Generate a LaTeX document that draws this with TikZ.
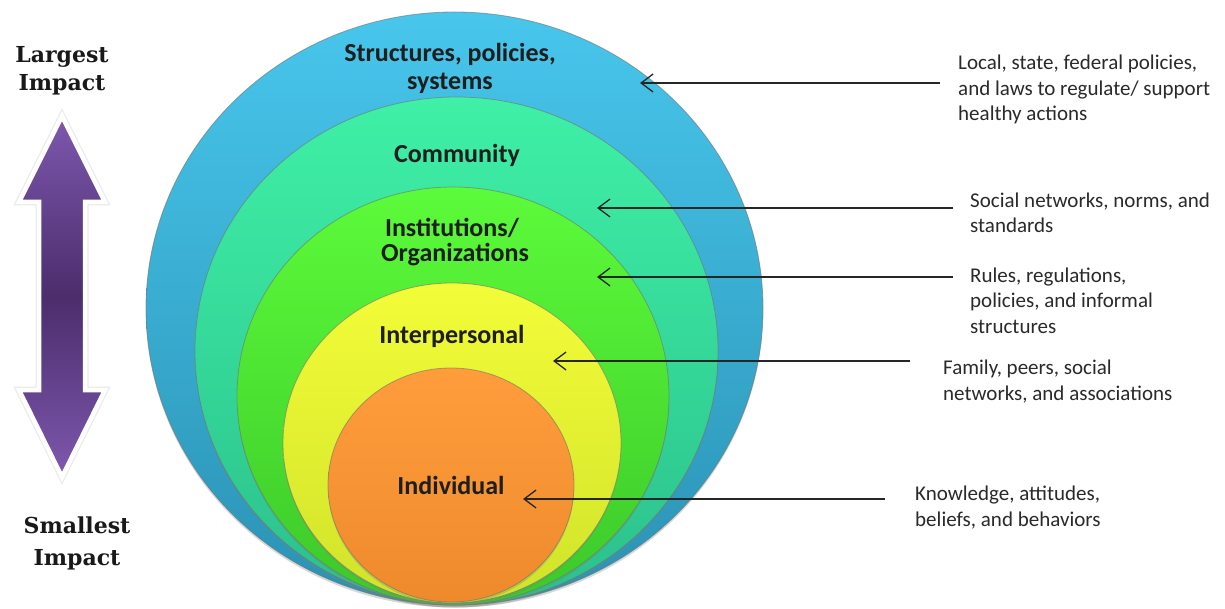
\documentclass[tikz,border=0pt]{standalone}
\usepackage{fontspec}
\setmainfont{Carlito}
\newfontfamily\sidefont{DejaVu Serif}
\usetikzlibrary{arrows.meta,shadows}
\definecolor{blueT}{HTML}{48C6EC}
\definecolor{blueB}{HTML}{2A92B4}
\definecolor{commT}{HTML}{3FF0A6}
\definecolor{commB}{HTML}{2BC08C}
\definecolor{instT}{HTML}{5CFB3A}
\definecolor{instB}{HTML}{3CC82A}
\definecolor{yelT}{HTML}{F3FC38}
\definecolor{yelB}{HTML}{D0E32A}
\definecolor{orT}{HTML}{FF9D3C}
\definecolor{orB}{HTML}{EE8A2C}
\definecolor{purEnd}{HTML}{7E58AE}
\definecolor{purMid}{HTML}{4C2D6C}
\definecolor{txt}{HTML}{1E1E1E}
\definecolor{sidetxt}{HTML}{2A2A2A}
\begin{document}
\begin{tikzpicture}[x=1pt,y=-1pt,
  ring/.style={draw=black!55, draw opacity=0.6, line width=0.8pt,
    drop shadow={opacity=0.3, shadow xshift=0pt, shadow yshift=-2.5pt}},
  lab/.style={anchor=base, inner sep=0pt, text=txt,
    font=\fontsize{26}{28}\selectfont\bfseries},
  side/.style={anchor=base west, inner sep=0pt, align=left, text=sidetxt,
    font=\fontsize{21}{25.5}\selectfont},
  impact/.style={anchor=base, inner sep=0pt, text=black!90,
    font=\sidefont\bfseries\fontsize{22}{24}\selectfont},
  conn/.style={draw=black!85, line width=1.3pt,
    -{Straight Barb[length=12pt,width=18pt,line width=1.3pt]}}]
\useasboundingbox (0,0) rectangle (1225,609);
\fill[white] (0,0) rectangle (1225,609);

% nested circles
\path[ring, top color=blueT, bottom color=blueB]
  (454.5,308.5) ellipse [x radius=308.5, y radius=296.5];
\path[ring, top color=commT, bottom color=commB]
  (456.5,351) ellipse [x radius=261.5, y radius=254];
\path[ring, top color=instT, bottom color=instB]
  (453,396) ellipse [x radius=216, y radius=209];
\path[ring, top color=yelT, bottom color=yelB]
  (452,443) ellipse [x radius=169, y radius=160];
\path[ring, top color=orT, bottom color=orB]
  (451,485) ellipse [x radius=123, y radius=117];

% circle labels
\node[lab] (sps1) at (450,62) {Structures, policies,};
\node[lab] (sps2) at (450,90) {systems};
\node[lab] (comm) at (457,163) {Community};
\node[lab] (inst1) at (452,237) {Institutions/};
\node[lab] (inst2) at (455,262) {Organizations};
\node[lab] (inter) at (452,343) {Interpersonal};
\node[lab] (indiv) at (451,494) {Individual};

% side descriptions (anchor at baseline of last line)
\node[side] (d1) at (958,121) {Local, state, federal policies,\\and laws to regulate/ support\\healthy actions};
\node[side] (d2) at (970,233) {Social networks, norms, and\\standards};
\node[side] (d3) at (970,333) {Rules, regulations,\\policies, and informal\\structures};
\node[side] (d4) at (943,400) {Family, peers, social\\networks, and associations};
\node[side] (d5) at (915,526) {Knowledge, attitudes,\\beliefs, and behaviors};

% connector ends
\coordinate (s1) at (940,83);   \coordinate (t1) at (640,83);
\coordinate (s2) at (953,208);  \coordinate (t2) at (597,208);
\coordinate (s3) at (953,277);  \coordinate (t3) at (597,277);
\coordinate (s4) at (910,361);  \coordinate (t4) at (553,361);
\coordinate (s5) at (885,499);  \coordinate (t5) at (523,499);
\draw[conn] (s1) -- (t1);
\draw[conn] (s2) -- (t2);
\draw[conn] (s3) -- (t3);
\draw[conn] (s4) -- (t4);
\draw[conn] (s5) -- (t5);

% impact arrow
\path[draw=black!8, line width=7pt, line join=miter]
  (62,116) -- (105,202) -- (85,202) -- (85,390) -- (105,390) -- (62,477)
  -- (19,390) -- (39,390) -- (39,202) -- (19,202) -- cycle;
\path[draw=white, line width=4.5pt, line join=miter,
      top color=purEnd, bottom color=purEnd, middle color=purMid]
  (62,116) -- (105,202) -- (85,202) -- (85,390) -- (105,390) -- (62,477)
  -- (19,390) -- (39,390) -- (39,202) -- (19,202) -- cycle;

\node[impact] (lg1) at (62,63) {Largest};
\node[impact] (lg2) at (62,91) {Impact};
\node[impact] (sm1) at (77,533) {Smallest};
\node[impact] (sm2) at (77,565) {Impact};
\end{tikzpicture}
\end{document}
